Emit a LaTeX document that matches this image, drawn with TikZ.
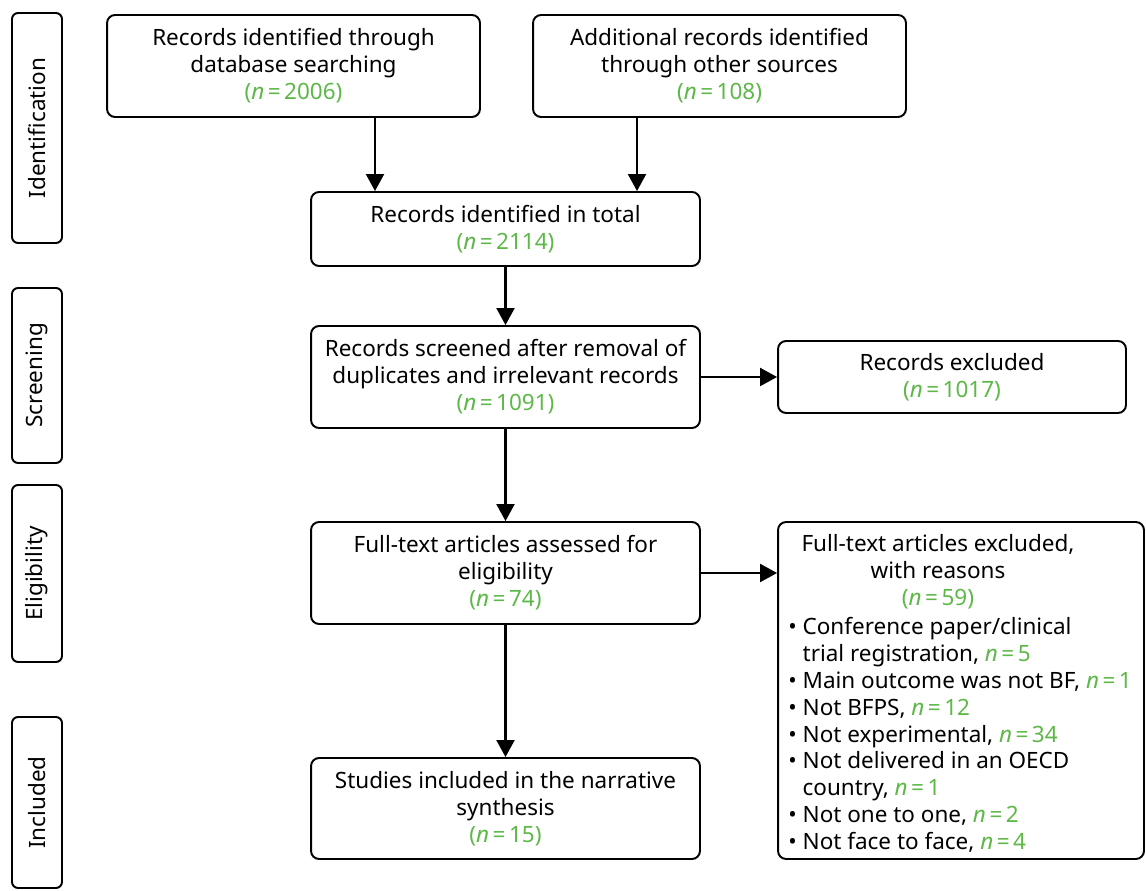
\documentclass[tikz,border=0pt]{standalone}
\usepackage{fontspec}
\setmainfont{Noto Sans}
\usetikzlibrary{arrows.meta}
\definecolor{ngreen}{RGB}{93,184,72}
\newcommand{\nval}[1]{\textcolor{ngreen}{(\textit{n}\kern2pt=\kern2pt#1)}}
\newcommand{\nn}[1]{\textcolor{ngreen}{\textit{n}\kern2pt=\kern2pt#1}}
\tikzset{
  box/.style={draw, line width=1.1pt, rounded corners=0.16cm, inner sep=0pt, align=center},
  sidebox/.style={draw, line width=1.1pt, rounded corners=0.12cm, inner sep=0pt, rotate=90, minimum height=1cm},
  arr/.style={line width=1.2pt, -{Triangle[length=0.34cm, width=0.36cm]}}
}

\begin{document}
\begin{tikzpicture}[x=0.02cm, y=-0.02cm, font=\fontsize{12.8}{15.3}\selectfont]
		%%%%% START %%%%%
		\useasboundingbox (0,0) rectangle (1146,891);
		
		% stage labels
		\node[sidebox, minimum width=4.6cm] (idf) at (37,128) {Identification};
		\node[sidebox, minimum width=3.5cm] (scr) at (37,375.5) {Screening};
		\node[sidebox, minimum width=3.54cm] (elg) at (37,573.5) {Eligibility};
		\node[sidebox, minimum width=3.42cm] (inc) at (37,802.5) {Included};
		
		% identification
		\node[box, minimum width=7.46cm, minimum height=2.04cm] (dbase) at (293.5,66) {Records identified through\\database searching\\\nval{2006}};
		\node[box, minimum width=7.46cm, minimum height=2.04cm] (other) at (719.5,66) {Additional records identified\\through other sources\\\nval{108}};
		\node[box, minimum width=7.78cm, minimum height=1.48cm] (total) at (505.5,229) {Records identified in total\\\nval{2114}};
		
		% screening
		\node[box, minimum width=7.78cm, minimum height=2.04cm] (screen) at (505.5,377) {Records screened after removal of\\duplicates and irrelevant records\\\nval{1091}};
		\node[box, minimum width=6.96cm, minimum height=1.44cm] (scrExcl) at (952,377) {Records excluded\\\nval{1017}};
		
		% eligibility
		\node[box, minimum width=7.78cm, minimum height=2.04cm] (fulltext) at (505.5,573) {Full-text articles assessed for\\eligibility\\\nval{74}};
		\node[box, minimum width=7.32cm, minimum height=6.74cm] (ftExcl) at (961,690.5) {};
		\node[anchor=north, align=center, inner sep=0pt] (ftHead) at (938,534) {Full-text articles excluded,\\with reasons\\\nval{59}};
		\node[anchor=north west, align=left, inner sep=0pt] (ftList) at (788,617) {%
			\textbullet\ Conference paper/clinical\\
			\phantom{\textbullet\ }trial registration, \nn{5}\\
			\textbullet\ Main outcome was not BF, \nn{1}\\
			\textbullet\ Not BFPS, \nn{12}\\
			\textbullet\ Not experimental, \nn{34}\\
			\textbullet\ Not delivered in an OECD\\
			\phantom{\textbullet\ }country, \nn{1}\\
			\textbullet\ Not one to one, \nn{2}\\
			\textbullet\ Not face to face, \nn{4}};
		
		% included
		\node[box, minimum width=7.78cm, minimum height=2.02cm] (incl) at (505.5,808.5) {Studies included in the narrative\\synthesis\\\nval{15}};
		
		% connectors
		\coordinate (cdb) at (375,0);
		\coordinate (cot) at (637,0);
		\draw[arr] (dbase.south -| cdb) -- (total.north -| cdb);
		\draw[arr] (other.south -| cot) -- (total.north -| cot);
		\draw[arr] (total.south) -- (screen.north);
		\draw[arr] (screen.east) -- (scrExcl.west);
		\draw[arr] (screen.south) -- (fulltext.north);
		\draw[arr] (fulltext.east) -- (fulltext.east -| ftExcl.west);
		\draw[arr] (fulltext.south) -- (incl.north);
		
		%%%%% END %%%%%
	\end{tikzpicture}
\end{document}
